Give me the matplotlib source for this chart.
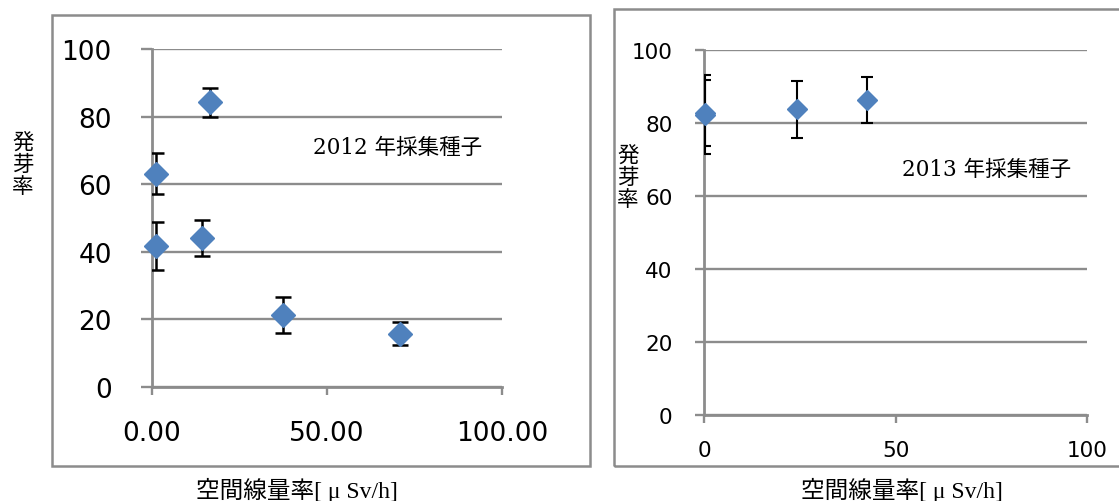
import matplotlib
matplotlib.use("Agg")
import matplotlib.pyplot as plt
from matplotlib.patches import Rectangle

plt.rcParams['font.family'] = ['Noto Sans CJK JP', 'DejaVu Sans']

# 2012 collected seeds
dose_2012 = [1.0, 1.0, 16.5, 14.2, 37.4, 70.8]
germ_2012 = [63.1, 41.7, 84.2, 44.0, 21.4, 15.8]
err_2012 = [6.0, 7.0, 4.2, 5.3, 5.3, 3.5]

# 2013 collected seeds
dose_2013 = [0.3, 0.3, 24.2, 42.5]
germ_2013 = [82.3, 82.8, 83.7, 86.3]
err_2013 = [10.8, 9.0, 7.8, 6.3]

ylabel = "発\n芽\n率"
xlabel = "空間線量率[ μ Sv/h]"
yticks = [0, 20, 40, 60, 80, 100]

W, H = 1119, 502
fig = plt.figure(figsize=(W / 100, H / 100), dpi=100)

grid_c = '#8c8c8c'
blue = '#4f81bd'
serif_cjk = ['Liberation Serif', 'Noto Sans CJK JP']
note_font = ['DejaVu Serif', 'Noto Sans CJK JP']


def px_box(x0, y0, x1, y1):
    return [x0 / W, 1 - y1 / H, (x1 - x0) / W, (y1 - y0) / H]


# outer chart frames
fig.patches.append(Rectangle((52 / W, 1 - 467 / H), (590 - 52) / W, (467 - 16) / H,
                             transform=fig.transFigure, fill=False, ec='#8c8c8c', lw=1.8))
fig.patches.append(Rectangle((614 / W, 1 - 467 / H), (1130 - 614) / W, (467 - 10) / H,
                             transform=fig.transFigure, fill=False, ec='#8c8c8c', lw=1.8))


def setup(ax, xticks, xlabels, fs, ypad, xpad, ylen, xlen):
    ax.set_xlim(0, 100)
    ax.set_ylim(0, 100)
    ax.set_yticks(yticks)
    ax.set_xticks(xticks)
    ax.set_xticklabels(xlabels)
    ax.yaxis.grid(True, color=grid_c, lw=1.7)
    ax.set_axisbelow(True)
    for s in ['top', 'right']:
        ax.spines[s].set_visible(False)
    for s in ['left', 'bottom']:
        ax.spines[s].set_color(grid_c)
        ax.spines[s].set_linewidth(2.0)
    ax.tick_params(axis='y', length=ylen, width=1.7, color=grid_c, pad=ypad, labelsize=fs)
    ax.tick_params(axis='x', length=xlen, width=1.7, color=grid_c, pad=xpad, labelsize=fs)
    for lab in ax.get_xticklabels() + ax.get_yticklabels():
        lab.set_family('DejaVu Sans')


# left chart
ax1 = fig.add_axes(px_box(152, 50, 502, 388))
setup(ax1, [0, 50, 100], ['0.00', '50.00', '100.00'], 19, 21, 18, 8, 6)
ax1.errorbar(dose_2012, germ_2012, yerr=err_2012, fmt='none', ecolor='black',
             elinewidth=1.8, capsize=5.5, capthick=1.8, zorder=3)
ax1.plot(dose_2012, germ_2012, 'D', color=blue, ms=12.5, mec=blue, zorder=4, clip_on=False)
fig.text(313 / W, 1 - 148 / H, "2012 年採集種子", family=note_font, fontsize=15.5,
         va='center', ha='left')
fig.text(23 / W, 1 - 165 / H, ylabel, fontsize=15.5, ha='center', va='center', linespacing=1.0)
fig.text(297 / W, 1 - 490 / H, xlabel, family=serif_cjk, fontsize=17, ha='center', va='center')

# right chart
ax2 = fig.add_axes(px_box(704, 51, 1087, 416))
setup(ax2, [0, 50, 100], ['0', '50', '100'], 15.5, 16, 12, 6.5, 6)
ax2.errorbar(dose_2013, germ_2013, yerr=err_2013, fmt='none', ecolor='black',
             elinewidth=1.5, capsize=4, capthick=1.5, zorder=3)
ax2.plot(dose_2013, germ_2013, 'D', color=blue, ms=10, mec=blue, zorder=4, clip_on=False)
fig.text(902 / W, 1 - 170 / H, "2013 年採集種子", family=note_font, fontsize=15.5,
         va='center', ha='left')
fig.text(628 / W, 1 - 178 / H, ylabel, fontsize=15.5, ha='center', va='center', linespacing=1.0)
fig.text(902 / W, 1 - 490 / H, xlabel, family=serif_cjk, fontsize=17, ha='center', va='center')

fig.savefig("out.png", dpi=100)
